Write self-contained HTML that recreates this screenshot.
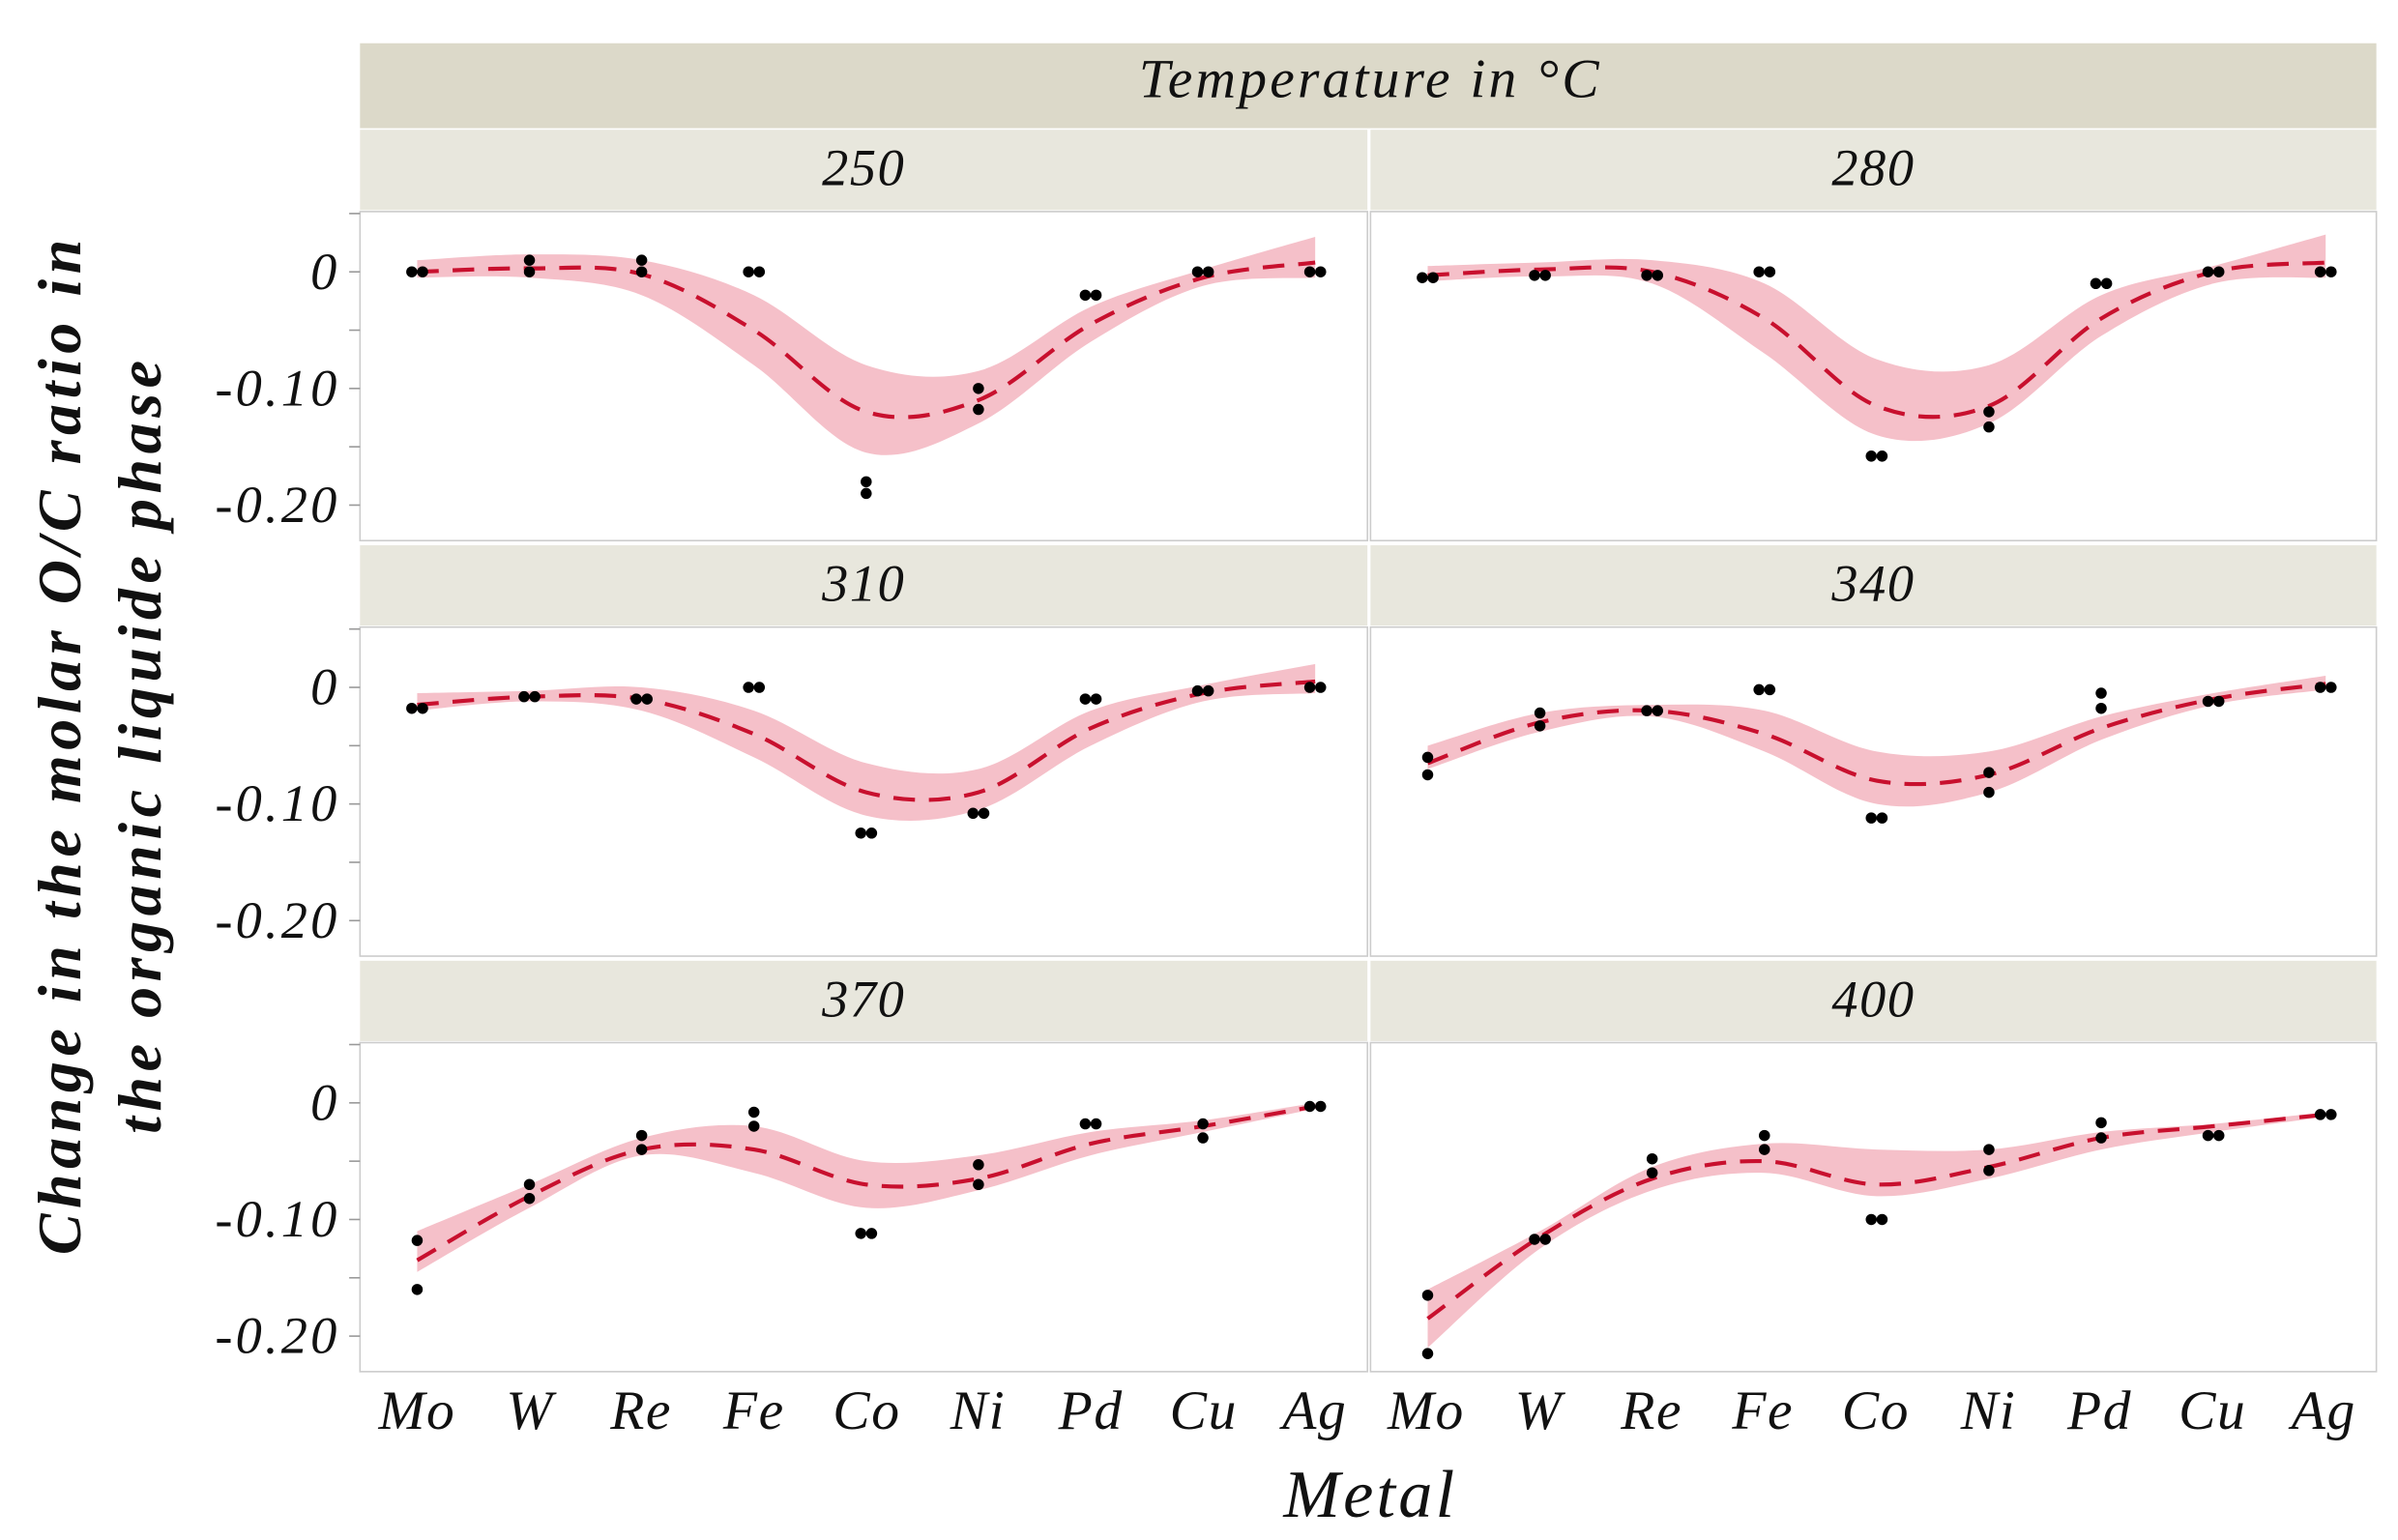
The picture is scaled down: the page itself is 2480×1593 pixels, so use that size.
<!DOCTYPE html>
<html><head><meta charset="utf-8"><style>
html,body{margin:0;padding:0;background:#fff}
svg{display:block}
text{font-family:"Liberation Serif",serif;font-style:italic;fill:#111}
</style></head><body>
<svg id="s" width="2480" height="1593" viewBox="0 0 1552 997" preserveAspectRatio="none" xmlns="http://www.w3.org/2000/svg">
<rect x="233" y="28" width="1305" height="55" fill="#dcd9c9"/>
<text x="887" y="63" font-size="36" letter-spacing="2" text-anchor="middle">Temperature in °C</text>
<g id="panels"></g>
<g font-size="36" text-anchor="middle" letter-spacing="1">
<text x="270" y="925">Mo</text><text x="343" y="925">W</text><text x="415" y="925">Re</text><text x="488" y="925">Fe</text><text x="561" y="925">Co</text><text x="633" y="925">Ni</text><text x="706" y="925">Pd</text><text x="779" y="925">Cu</text><text x="851" y="925">Ag</text>
<text x="923" y="925">Mo</text><text x="996" y="925">W</text><text x="1069" y="925">Re</text><text x="1141" y="925">Fe</text><text x="1214" y="925">Co</text><text x="1287" y="925">Ni</text><text x="1359" y="925">Pd</text><text x="1432" y="925">Cu</text><text x="1504" y="925">Ag</text>
</g>
<text x="887" y="982" font-size="44" letter-spacing="2" text-anchor="middle">Metal</text>
<text transform="translate(52,482) rotate(-90)" font-size="40" letter-spacing="3.5" text-anchor="middle" font-weight="bold">Change in the molar O/C ratio in</text>
<text transform="translate(104,482) rotate(-90)" font-size="40" letter-spacing="3.5" text-anchor="middle" font-weight="bold">the organic liquide phase</text>
</svg>
<script>
var NS="http://www.w3.org/2000/svg",G=document.getElementById("panels");
function el(t,a,p){var e=document.createElementNS(NS,t);for(var k in a)e.setAttribute(k,a[k]);(p||G).appendChild(e);return e;}
var P=[
{t:"250",c:0,r:0,f:[0,.003,-.002,-.05,-.12,-.11,-.045,-.005,.008],u:[.01,.015,.01,-.02,-.08,-.085,-.03,.002,.03],l:[-.005,-.005,-.02,-.08,-.155,-.13,-.06,-.012,-.005],p:[[0],[.01,0],[.01,0],[0],[-.18,-.19],[-.10,-.118],[-.02],[0],[0]]},
{t:"280",c:1,r:0,f:[-.003,.002,0,-.04,-.115,-.115,-.04,0,.008],u:[.005,.008,.01,-.01,-.075,-.08,-.02,.005,.032],l:[-.008,-.004,-.01,-.07,-.14,-.13,-.055,-.01,-.005],p:[[-.005],[-.003],[-.003],[0],[-.158],[-.12,-.133],[-.01],[0],[0]]},
{t:"310",c:0,r:1,f:[-.015,-.008,-.01,-.04,-.09,-.09,-.035,-.005,.005],u:[-.005,-.003,0,-.02,-.065,-.07,-.02,.002,.02],l:[-.02,-.012,-.02,-.06,-.11,-.105,-.05,-.012,-.005],p:[[-.018],[-.008],[-.01],[0],[-.125],[-.108],[-.01],[-.003],[0]]},
{t:"340",c:1,r:1,f:[-.065,-.03,-.02,-.04,-.08,-.075,-.035,-.01,.003],u:[-.05,-.022,-.015,-.02,-.055,-.055,-.025,-.005,.01],l:[-.07,-.038,-.025,-.055,-.1,-.09,-.045,-.015,-.002],p:[[-.06,-.075],[-.022,-.033],[-.02],[-.002],[-.112],[-.073,-.09],[-.005,-.018],[-.012],[0]]},
{t:"370",c:0,r:2,f:[-.135,-.08,-.04,-.04,-.07,-.065,-.035,-.02,-.003],u:[-.11,-.07,-.03,-.02,-.05,-.045,-.025,-.015,0],l:[-.145,-.09,-.045,-.06,-.09,-.075,-.045,-.025,-.005],p:[[-.118,-.16],[-.07,-.082],[-.028,-.04],[-.008,-.02],[-.112],[-.053,-.07],[-.018],[-.018,-.03],[-.003]]},
{t:"400",c:1,r:2,f:[-.185,-.115,-.065,-.05,-.07,-.055,-.03,-.02,-.01],u:[-.16,-.11,-.055,-.035,-.04,-.04,-.025,-.018,-.008],l:[-.21,-.125,-.075,-.06,-.08,-.065,-.04,-.025,-.012],p:[[-.165,-.215],[-.117],[-.048,-.06],[-.028,-.04],[-.1],[-.04,-.058],[-.017,-.03],[-.028],[-.01]]}
];
function cr(pts){var d="";for(var i=0;i<pts.length-1;i++){var p0=pts[i-1]||pts[i],p1=pts[i],p2=pts[i+1],p3=pts[i+2]||p2;
var c1=[p1[0]+(p2[0]-p0[0])/6,p1[1]+(p2[1]-p0[1])/6],c2=[p2[0]-(p3[0]-p1[0])/6,p2[1]-(p3[1]-p1[1])/6];
d+=" C"+c1.join(",")+" "+c2.join(",")+" "+p2.join(",");}return d;}
P.forEach(function(q){
 var x0=q.c?887:233,w=q.c?651:652,sy=84+q.r*269,py=sy+53,ph=213,z=py+39;
 el("rect",{x:x0,y:sy,width:w,height:52,fill:"#e8e7dd"});
 el("text",{x:x0+w/2,y:sy+36,"font-size":34,"letter-spacing":1,"text-anchor":"middle"}).textContent=q.t;
 el("rect",{x:x0,y:py,width:w,height:ph,fill:"#fff",stroke:"#ccc","stroke-width":1});
 var X=function(i){return x0+37+i*72.65;},Y=function(v){return z-v*755;};
 if(!q.c){[.05,0,-.05,-.1,-.15,-.2].forEach(function(v){el("line",{x1:226,x2:233,y1:Y(v),y2:Y(v),stroke:"#999"});});
  [[0,"0"],[-.1,"-0.10"],[-.2,"-0.20"]].forEach(function(a){el("text",{x:220,y:Y(a[0])+11,"font-size":34,"letter-spacing":2,"text-anchor":"end"}).textContent=a[1];});}
 var U=q.u.map(function(v,i){return[X(i),Y(v)]}),L=q.l.map(function(v,i){return[X(i),Y(v)]}).reverse();
 el("path",{d:"M"+U[0].join(",")+cr(U)+" L"+L[0].join(",")+cr(L)+"Z",fill:"#f5c0c9"});
 var F=q.f.map(function(v,i){return[X(i),Y(v)]});
 el("path",{d:"M"+F[0].join(",")+cr(F),fill:"none",stroke:"#c8102e","stroke-width":2.6,"stroke-dasharray":"14,9"});
 q.p.forEach(function(a,i){a.forEach(function(v){if(a.length==1){el("circle",{cx:X(i)-3.5,cy:Y(v),r:3.6,fill:"#000"});el("circle",{cx:X(i)+3.5,cy:Y(v),r:3.6,fill:"#000"});}else el("circle",{cx:X(i),cy:Y(v),r:3.6,fill:"#000"});});});
});
</script>
</body></html>
